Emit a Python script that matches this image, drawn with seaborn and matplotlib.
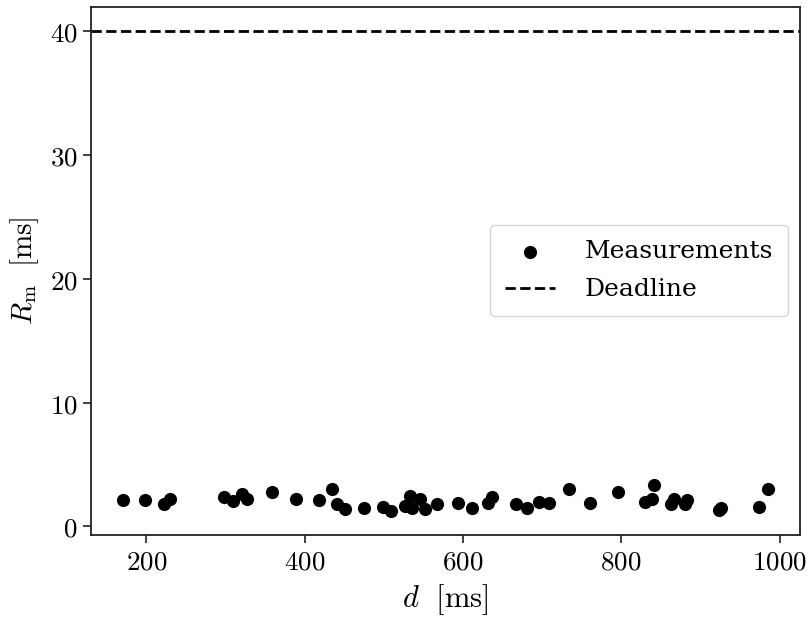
import numpy as np
import pandas as pd
import matplotlib
matplotlib.use("Agg")
import matplotlib.pyplot as plt
import seaborn as sns
from matplotlib.ticker import FuncFormatter

# measured response times vs. period d
d_ms = [170.6, 197.9, 221.8, 230.3, 297.6, 309.5, 320.8, 327.1, 358.7, 389.0,
        417.6, 434.5, 440.8, 450.4, 474.4, 499.6, 509.3, 527.0, 533.3, 535.5,
        546.0, 552.3, 567.0, 594.3, 611.2, 632.2, 636.5, 667.2, 680.7, 696.2,
        709.2, 734.5, 760.5, 795.6, 830.1, 838.5, 841.4, 862.5, 866.7, 880.6,
        883.5, 924.0, 926.0, 974.0, 985.7]
r_ms = [2.12, 2.12, 1.77, 2.18, 2.40, 2.04, 2.58, 2.18, 2.77, 2.18,
        2.12, 2.98, 1.77, 1.43, 1.51, 1.59, 1.23, 1.64, 2.44, 1.51,
        2.18, 1.43, 1.77, 1.91, 1.51, 1.91, 2.40, 1.77, 1.51, 1.99,
        1.91, 2.98, 1.88, 2.77, 1.96, 2.18, 3.31, 1.77, 2.23, 1.77,
        2.12, 1.31, 1.45, 1.59, 2.98]
deadline = 40

df = pd.DataFrame({'d': d_ms, 'R': r_ms})

sns.set_style("ticks")
plt.rcParams['mathtext.fontset'] = 'cm'
plt.rcParams['font.family'] = ['DejaVu Serif']
plt.rcParams['text.color'] = 'black'
plt.rcParams['axes.labelcolor'] = 'black'
plt.rcParams['xtick.color'] = 'black'
plt.rcParams['ytick.color'] = 'black'

fig, ax = plt.subplots(figsize=(8.11, 6.18), dpi=100)
fig.subplots_adjust(left=0.112, right=0.987, bottom=0.134, top=0.989)

sns.scatterplot(data=df, x='d', y='R', color='black', s=90, edgecolor='black',
                linewidth=0, label='Measurements', ax=ax)
ax.axhline(deadline, color='black', linestyle='--', linewidth=2, label='Deadline')

ax.set_xticks([200, 400, 600, 800, 1000])
ax.set_yticks([0, 10, 20, 30, 40])
fmt = FuncFormatter(lambda v, p: f'${v:g}$')
ax.xaxis.set_major_formatter(fmt)
ax.yaxis.set_major_formatter(fmt)
ax.tick_params(labelsize=19.5, length=6, width=1.2, color='#222222')
for sp in ax.spines.values():
    sp.set_linewidth(1.3)
    sp.set_color('#222222')

ax.set_xlabel(r'$d\ \ \mathrm{[ms]}$', fontsize=22, labelpad=5)
ax.set_ylabel(r'$R_\mathrm{m}\ \ \mathrm{[ms]}$', fontsize=21, labelpad=6)

ax.legend(loc='center right', fontsize=18, frameon=True, handletextpad=1.2,
          borderpad=0.6, labelspacing=0.6)

fig.savefig('out.png', dpi=100)
